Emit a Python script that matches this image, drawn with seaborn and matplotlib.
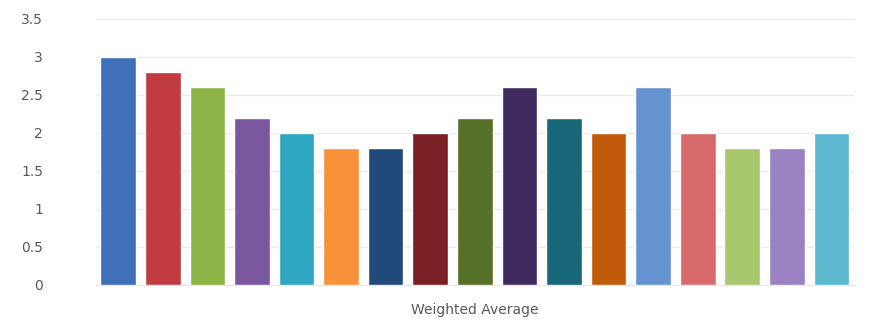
import matplotlib
matplotlib.use("Agg")
import matplotlib.pyplot as plt
import seaborn as sns
import pandas as pd

categories = [f"Item {i}" for i in range(1, 18)]
values = [3.0, 2.8, 2.6, 2.2, 2.0, 1.8, 1.8, 2.0, 2.2, 2.6, 2.2, 2.0, 2.6, 2.0, 1.8, 1.8, 2.0]
colors = ["#3F6FB9", "#C23B40", "#8DB447", "#7A58A0", "#2FA7C2", "#F7913A",
          "#1F4A7A", "#7A2025", "#567127", "#3E2A5E", "#19687A", "#C15A0B",
          "#6593D2", "#D96A6C", "#A9C86E", "#9A82C2", "#5BB8CF"]
yticks = [0, 0.5, 1, 1.5, 2, 2.5, 3, 3.5]
ytick_labels = ["0", "0.5", "1", "1.5", "2", "2.5", "3", "3.5"]
xlabel = "Weighted Average"

df = pd.DataFrame({"category": categories, "value": values})

sns.set_style("white")
plt.rcParams['font.family'] = ['DejaVu Sans']

fig = plt.figure(figsize=(8.72, 3.26), dpi=100)
ax = fig.add_axes([0.110, 0.126, 0.869, 0.816])

sns.barplot(data=df, x="category", y="value", hue="category", palette=colors,
            legend=False, width=0.8, saturation=1, ax=ax, zorder=3)

ax.set_ylim(0, 3.5)
ax.set_yticks(yticks)
ax.set_yticklabels(ytick_labels, color="#595959", fontsize=10)
ax.set_xticks([])
ax.set_xlim(-0.5, len(categories) - 0.5)
ax.set_xlabel(xlabel, color="#595959", fontsize=10, labelpad=13)
ax.set_ylabel("")
ax.yaxis.grid(True, color="#EBEBEB", linewidth=1, zorder=0)
ax.set_axisbelow(True)
for s in ["top", "right", "left"]:
    ax.spines[s].set_visible(False)
ax.spines["bottom"].set_color("#E6E6E6")
ax.tick_params(axis="y", length=0, pad=38)

fig.savefig("out.png", dpi=100)
